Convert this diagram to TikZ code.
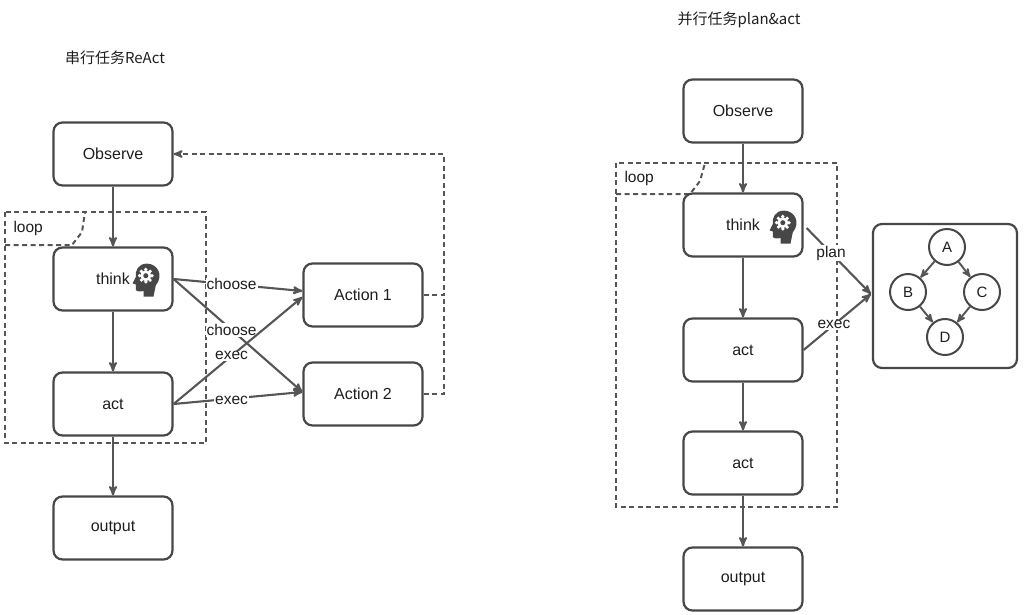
\documentclass[tikz,border=0pt]{standalone}
\usepackage{fontspec}
\setmainfont{Liberation Sans}
\newfontfamily\cjk{Noto Sans CJK SC}
\usetikzlibrary{calc}
\usetikzlibrary{arrows}
\definecolor{linegray}{HTML}{555555}
\definecolor{boxgray}{HTML}{474747}
\definecolor{txtgray}{HTML}{1E1E1E}

% head with gear, drawn at a point
\newcommand{\headicon}[1]{%
\begin{scope}[shift={(#1)}, scale=1.1]
\fill[boxgray] (5,16) -- (7,6) .. controls (15,-4) and (8,-14) .. (-1,-14) .. controls (-9,-14) and (-12,-7) .. (-11,-2) -- (-14,4) -- (-11,5) -- (-11,10) .. controls (-10,12) and (-6,11) .. (-4,11) -- (-4,16) -- cycle;
\foreach \a in {0,45,...,315}
  \fill[white] (-2,-3) ++(\a:5.6) circle (1.7);
\fill[white] (-2,-3) circle (5);
\fill[boxgray] (-2,-3) circle (2.3);
\end{scope}}

\begin{document}
\begin{tikzpicture}[x=1pt,y=-1pt,
  box/.style={draw=boxgray, line width=2.2pt, rounded corners=9pt, minimum width=119pt, minimum height=63pt, text=txtgray, font=\fontsize{16}{19}\selectfont},
  dot/.style={draw=boxgray, line width=2pt, circle, minimum size=36pt, inner sep=0, text=txtgray, font=\fontsize{15}{17}\selectfont},
  conn/.style={linegray, line width=2.1pt, ->, >=stealth'},
  loopline/.style={linegray, line width=2pt, dash pattern=on 5pt off 3.5pt},
  lbl/.style={fill=white, inner sep=1pt, text=txtgray, font=\fontsize{15.5}{18}\selectfont}]
\useasboundingbox (0,0) rectangle (1025,614);

% left: serial
\node[text=txtgray, font=\fontsize{15}{18}\selectfont] (titleL) at (115,58) {\cjk 串行任务ReAct};
\draw[loopline] (5,212) rectangle (206,443);
\draw[loopline] (5,245) -- (72,245) -- (82,232) -- (85,212);
\node[anchor=west, text=txtgray, font=\fontsize{15.5}{18}\selectfont] (loopL) at (10,228) {loop};

\node[box] (obsL) at (113,154) {Observe};
\node[box] (thinkL) at (113,279) {think\hspace{38pt}};
\headicon{148,279}
\node[box] (actL) at (113,404) {act};
\node[box] (outL) at (113,528) {output};
\node[box] (actA) at (363,295) {Action 1};
\node[box] (actB) at (363,394) {Action 2};

\draw[conn] (obsL) -- (thinkL);
\draw[conn] (thinkL) -- (actL);
\draw[conn] (actL) -- (outL);

\draw[conn] (thinkL.east) -- (actA.west |- 0,291) node[lbl, pos=.45] {choose};
\draw[conn] (thinkL.east) -- (actB.west |- 0,392) node[lbl, pos=.45] {choose};
\draw[conn] (actL.east) -- (actA.west |- 0,297) node[lbl, pos=.45] {exec};
\draw[conn] (actL.east) -- (actB.west |- 0,392) node[lbl, pos=.45, yshift=-2pt] {exec};

\coordinate (fb) at ($(actA.east)+(20,0)$);
\draw[loopline, ->, >=stealth'] (actA.east) -- (fb) |- (obsL.east);
\draw[loopline] (actB.east) -| (fb);

% right: parallel
\node[text=txtgray, font=\fontsize{15}{18}\selectfont] (titleR) at (739,20) {\cjk 并行任务plan\&act};
\draw[loopline] (616,163) rectangle (837,507);
\draw[loopline] (616,194) -- (690,194) -- (700,181) -- (705,163);
\node[anchor=west, text=txtgray, font=\fontsize{15.5}{18}\selectfont] (loopR) at (621,178) {loop};

\node[box] (obsR) at (743,111) {Observe};
\node[box] (thinkR) at (743,225) {think\hspace{38pt}};
\headicon{785,226}
\node[box] (actR1) at (743,350) {act};
\node[box] (actR2) at (743,463) {act};
\node[box] (outR) at (743,579) {output};

\draw[conn] (obsR) -- (thinkR);
\draw[conn] (thinkR) -- (actR1);
\draw[conn] (actR1) -- (actR2);
\draw[conn] (actR2) -- (outR);

\node[draw=boxgray, line width=2.2pt, rounded corners=9pt, minimum width=144pt, minimum height=144pt] (dag) at (945,296) {};
\node[dot] (A) at (947,247) {A};
\node[dot] (B) at (908,292) {B};
\node[dot] (C) at (982,292) {C};
\node[dot] (D) at (945,337) {D};
\foreach \s/\t in {A/B, A/C, B/D, C/D}
  \draw[conn, line width=1.9pt] (\s) -- (\t);

\draw[conn] ($(thinkR.east)+(3,3)$) -- ($(dag.west)+(-1,-2)$) node[lbl, pos=.38] {plan};
\draw[conn] (actR1.east) -- ($(dag.west)+(-1,-2)$) node[lbl, pos=.45] {exec};
\end{tikzpicture}
\end{document}
